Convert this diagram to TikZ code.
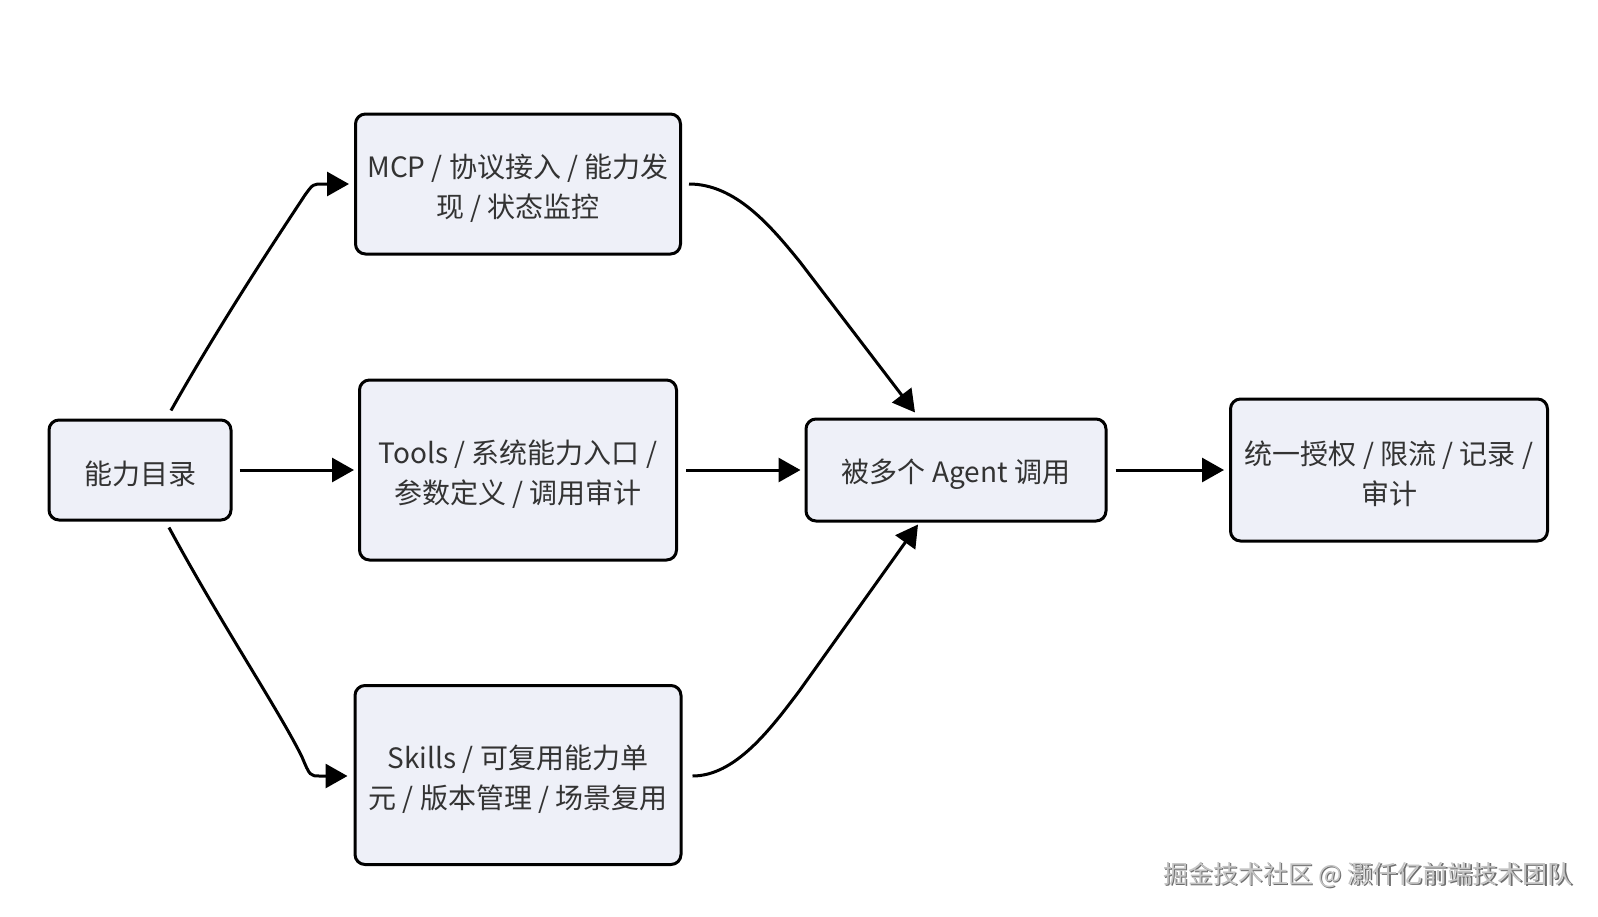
\documentclass[tikz,border=0pt]{standalone}
\usepackage{fontspec}
\setmainfont{Noto Sans CJK SC}
\usetikzlibrary{arrows.meta,calc}
\definecolor{boxfill}{HTML}{EEF0F8}
\definecolor{txt}{HTML}{333333}
\definecolor{wmmain}{HTML}{C4C4C4}
\definecolor{wmshade}{HTML}{6E6E6E}
\begin{document}
\begin{tikzpicture}[x=1pt,y=-1pt,
  box/.style={draw=black, line width=3pt, rounded corners=10pt, fill=boxfill, inner sep=0pt},
  lbl/.style={text=txt, align=center, font=\fontsize{28}{40}\selectfont, inner sep=0pt},
  arr/.style={line width=3pt, -{Triangle[length=22pt,width=24pt]}},
  wmark/.style={font=\fontsize{25}{28}\selectfont, inner sep=0pt},
]
\useasboundingbox (0,0) rectangle (1598,916);
\fill[white] (0,0) rectangle (1598,916);

\node[box, minimum width=182pt, minimum height=100pt] (cap) at (140,470) {};
\node[box, minimum width=325pt, minimum height=140pt] (mcp) at (518,184) {};
\node[box, minimum width=317pt, minimum height=180pt] (tools) at (518,470) {};
\node[box, minimum width=326pt, minimum height=179pt] (skills) at (518,775) {};
\node[box, minimum width=300pt, minimum height=102pt] (agent) at (956,470) {};
\node[box, minimum width=317pt, minimum height=142pt] (res) at (1389,470) {};

\node[lbl] (captext) at ([yshift=-4pt]cap.center) {能力目录};
\node[lbl] (mcptext) at ([yshift=-4pt]mcp.center) {MCP / 协议接入 / 能力发\\现 / 状态监控};
\node[lbl] (toolstext) at ([yshift=-4pt]tools.center) {Tools / 系统能力入口 /\\参数定义 / 调用审计};
\node[lbl] (skillstext) at ([yshift=-4pt]skills.center) {Skills / 可复用能力单\\元 / 版本管理 / 场景复用};
\node[lbl] (agenttext) at ([yshift=-4pt]agent.center) {被多个 Agent 调用};
\node[lbl] (restext) at ([yshift=-4pt]res.center) {统一授权 / 限流 / 记录 /\\审计};

% straight arrows
\draw[arr] ([xshift=7pt]cap.east) -- ([xshift=-4pt]tools.west);
\draw[arr] ([xshift=8pt]tools.east) -- ([xshift=-4pt]agent.west);
\draw[arr] ([xshift=8pt]agent.east) -- ([xshift=-5pt]res.west);

% curved arrows
\draw[arr] ([shift={(31,-8)}]cap.north) .. controls (222,320) and (282,230) .. (305,195)
  .. controls (313,184) .. (323,184) -- ([xshift=-5pt]mcp.west);
\draw[arr] ([shift={(29,6)}]cap.south) .. controls (220,622) and (280,712) .. (302,757)
  .. controls (310,776) .. (320,776) -- ([shift={(-6,1)}]skills.west);
\draw[arr] ([xshift=7pt]mcp.east) .. controls (735,184) and (770,225) .. (800,262)
  -- ([shift={(-41,-5)}]agent.north);
\draw[arr] ([shift={(10,1)}]skills.east) .. controls (735,776) and (770,730) .. (800,690)
  -- ([shift={(-38,2)}]agent.south);

% watermark
\node[wmark, text=wmshade] (wmshadow) at (1369.2,876.2) {掘金技术社区 @ 灏仟亿前端技术团队};
\node[wmark, text=wmmain] (wm) at (1368,875) {掘金技术社区 @ 灏仟亿前端技术团队};
\end{tikzpicture}
\end{document}
